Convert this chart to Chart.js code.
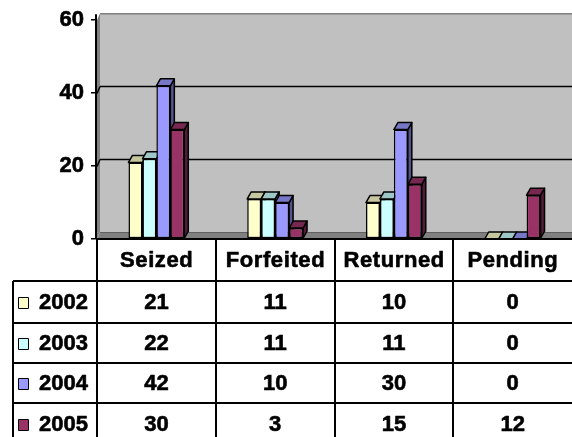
<!DOCTYPE html>
<html><head><meta charset="utf-8">
<script src="https://cdn.jsdelivr.net/npm/chart.js@4.4.1/dist/chart.umd.min.js"></script>
<style>html,body{margin:0;padding:0;background:#fff;overflow:hidden}#wrap{width:572px;height:437px;position:relative}</style>
</head><body><div id="wrap"><canvas id="c" width="572" height="437"></canvas></div>
<script>
const categories = ['Seized', 'Forfeited', 'Returned', 'Pending'];
const seriesNames = ['2002', '2003', '2004', '2005'];
const values2002 = [21, 11, 10, 0];
const values2003 = [22, 11, 11, 0];
const values2004 = [42, 10, 30, 0];
const values2005 = [30, 3, 15, 12];
const yTickValues = [0, 20, 40, 60];
const seriesColors = ['#FFFFCC', '#CCFFFF', '#9999FF', '#993366'];

const FONT = "'Liberation Sans', Arial, sans-serif";
const allValues = [values2002, values2003, values2004, values2005];
const DX = 4, DY = -7;       // bar depth
const WDX = 3, WDY = -7;     // wall depth

function shade(hex, f) {
  const n = parseInt(hex.slice(1), 16);
  const r = Math.round(((n >> 16) & 255) * f), g = Math.round(((n >> 8) & 255) * f), b = Math.round((n & 255) * f);
  return `rgb(${r},${g},${b})`;
}
function poly(ctx, pts, fill, stroke, lw) {
  ctx.beginPath();
  ctx.moveTo(pts[0][0], pts[0][1]);
  for (let i = 1; i < pts.length; i++) ctx.lineTo(pts[i][0], pts[i][1]);
  ctx.closePath();
  if (fill) { ctx.fillStyle = fill; ctx.fill(); }
  if (stroke) { ctx.strokeStyle = stroke; ctx.lineWidth = lw || 1; ctx.lineJoin = 'round'; ctx.stroke(); }
}

const threeD = {
  id: 'threeD',
  beforeDatasetsDraw(chart) {
    const { ctx, chartArea: a, scales: { y } } = chart;
    const L = a.left, R = a.right, T = a.top, B = a.bottom;
    ctx.save();
    ctx.fillStyle = '#C0C0C0';
    ctx.fillRect(L + WDX, T + WDY, R - L - WDX, B - T);
    poly(ctx, [[L, T], [L + WDX, T + WDY], [L + WDX, B + WDY], [L, B]], '#808080');
    poly(ctx, [[L, B], [L + WDX, B + WDY], [R, B + WDY], [R, B]], '#808080');
    ctx.strokeStyle = '#606060'; ctx.lineWidth = 1;
    ctx.beginPath(); ctx.moveTo(L + WDX, B + WDY + 0.5); ctx.lineTo(R, B + WDY + 0.5); ctx.stroke();
    ctx.strokeStyle = '#808080'; ctx.lineWidth = 1.5;
    ctx.beginPath(); ctx.moveTo(L + WDX, T + WDY + 0.5); ctx.lineTo(R, T + WDY + 0.5); ctx.stroke();
    ctx.strokeStyle = '#000'; ctx.lineWidth = 1.5;
    yTickValues.forEach(v => {
      if (v === 0 || v === 60) return;
      const py = Math.round(y.getPixelForValue(v) + WDY) + 0.5;
      ctx.beginPath(); ctx.moveTo(L + WDX, py); ctx.lineTo(R, py); ctx.stroke();
      ctx.beginPath(); ctx.moveTo(L, py - WDY); ctx.lineTo(L + WDX, py); ctx.stroke();
    });
    ctx.strokeStyle = '#000'; ctx.lineWidth = 2;
    ctx.beginPath(); ctx.moveTo(L - 1, T + WDY + 1); ctx.lineTo(L - 1, B); ctx.stroke();
    for (let j = 0; j < categories.length; j++) {
      for (let i = 0; i < chart.data.datasets.length; i++) {
        const el = chart.getDatasetMeta(i).data[j];
        const l = el.x - el.width / 2, r = el.x + el.width / 2, t = el.y, b = el.base;
        const col = seriesColors[i];
        if (b - t > 0.5) {
          poly(ctx, [[r, t], [r + DX, t + DY], [r + DX, b + DY], [r, b]], shade(col, 0.55), '#000', 1.5);
        }
        poly(ctx, [[l, t], [l + DX, t + DY], [r + DX, t + DY], [r, t]], shade(col, 0.78), '#000', 1.5);
      }
    }
    ctx.restore();
  }
};

const dataTable = {
  id: 'dataTable',
  afterDraw(chart) {
    const { ctx, chartArea: a, scales: { x } } = chart;
    const L = a.left, R = a.right, B = a.bottom;
    const n = categories.length, w = (R - L) / n;
    const rowLines = [B, 281, 323, 363, 403, 444];
    const legendLeft = 13;
    ctx.save();
    ctx.strokeStyle = '#000'; ctx.lineWidth = 2;
    ctx.beginPath(); ctx.moveTo(L, B); ctx.lineTo(R, B); ctx.stroke();
    for (let k = 1; k < rowLines.length - 1; k++) {
      ctx.beginPath(); ctx.moveTo(legendLeft, rowLines[k]); ctx.lineTo(R, rowLines[k]); ctx.stroke();
    }
    ctx.beginPath(); ctx.moveTo(legendLeft, rowLines[1]); ctx.lineTo(legendLeft, 437); ctx.stroke();
    for (let k = 0; k < n; k++) {
      const xx = Math.round(L + k * w);
      ctx.beginPath(); ctx.moveTo(xx, B); ctx.lineTo(xx, 437); ctx.stroke();
    }
    ctx.font = 'bold 22px ' + FONT;
    ctx.textBaseline = 'middle';
    ctx.lineJoin = 'round';
    const txt = (s, px, py) => { ctx.fillStyle = '#000'; ctx.strokeStyle = '#000'; ctx.lineWidth = 0.6; ctx.fillText(s, px, py); ctx.strokeText(s, px, py); };
    ctx.textAlign = 'center';
    ctx.letterSpacing = '0.6px';
    categories.forEach((c, j) => txt(c, x.getPixelForValue(j) + 0.3, (rowLines[0] + rowLines[1]) / 2 + 0.5));
    ctx.letterSpacing = '0px';
    for (let i = 0; i < seriesNames.length; i++) {
      const cy = (rowLines[i + 1] + rowLines[i + 2]) / 2 + 1;
      ctx.textAlign = 'center';
      allValues[i].forEach((v, j) => txt(String(v), x.getPixelForValue(j), cy));
      ctx.fillStyle = seriesColors[i];
      ctx.fillRect(18, Math.round(cy) - 5, 10, 10);
      ctx.strokeStyle = '#000'; ctx.lineWidth = 1;
      ctx.strokeRect(18.5, Math.round(cy) - 5.5, 10, 11);
      ctx.textAlign = 'left';
      txt(seriesNames[i], 39, cy);
    }
    ctx.restore();
  }
};

Chart.defaults.font.family = FONT;
new Chart(document.getElementById('c'), {
  type: 'bar',
  data: {
    labels: categories,
    datasets: allValues.map((vals, i) => ({
      label: seriesNames[i],
      data: vals,
      backgroundColor: seriesColors[i],
      borderColor: '#000',
      borderWidth: 1.5,
      borderSkipped: false,
      categoryPercentage: 0.47,
      barPercentage: 1
    }))
  },
  options: {
    responsive: false,
    animation: false,
    layout: { padding: { left: 0, right: 0, top: 19, bottom: 198 } },
    plugins: { legend: { display: false }, tooltip: { enabled: false } },
    scales: {
      x: { display: false },
      y: {
        min: 0, max: 60,
        afterFit(s) { s.width = 97; },
        afterBuildTicks(s) { s.ticks = yTickValues.map(v => ({ value: v })); },
        ticks: { color: '#000', padding: 7, font: { size: 22, weight: 'bold' }, textStrokeColor: '#000', textStrokeWidth: 0.6 },
        grid: { drawOnChartArea: false, drawTicks: true, tickLength: 6, color: '#000', lineWidth: 1.5 },
        border: { display: false }
      }
    }
  },
  plugins: [threeD, dataTable]
});
</script></body></html>
